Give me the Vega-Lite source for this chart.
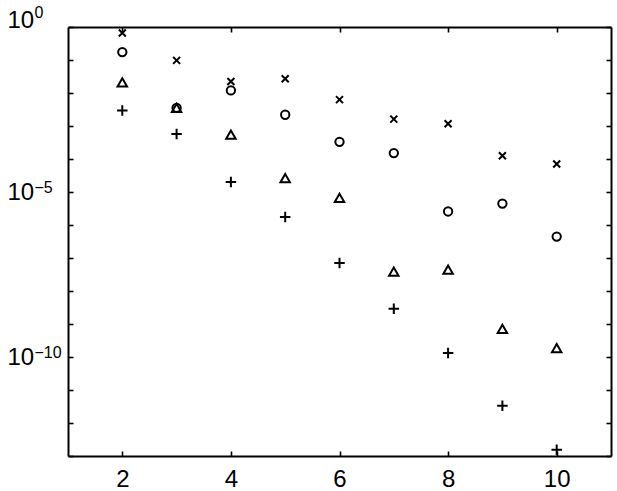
{
  "$schema": "https://vega.github.io/schema/vega-lite/v6.json",
  "width": 543,
  "height": 429,
  "autosize": "none",
  "padding": {"left": 68, "top": 27, "right": 6, "bottom": 35},
  "background": "white",
  "config": {
    "view": {"stroke": null},
    "axis": {
      "domainColor": "black",
      "domainWidth": 2,
      "tickColor": "black",
      "tickWidth": 1.6,
      "tickSize": -5,
      "grid": false,
      "labelFont": "Liberation Sans",
      "labelFontSize": 24,
      "labelColor": "black",
      "title": null
    }
  },
  "data": {
    "values": [
      {"n": 2, "err": 0.661, "series": "x"},
      {"n": 3, "err": 0.0977, "series": "x"},
      {"n": 4, "err": 0.0224, "series": "x"},
      {"n": 5, "err": 0.0269, "series": "x"},
      {"n": 6, "err": 0.00631, "series": "x"},
      {"n": 7, "err": 0.00162, "series": "x"},
      {"n": 8, "err": 0.00117, "series": "x"},
      {"n": 9, "err": 0.000126, "series": "x"},
      {"n": 10, "err": 0.0000708, "series": "x"},
      {"n": 2, "err": 0.174, "series": "o"},
      {"n": 3, "err": 0.00355, "series": "o"},
      {"n": 4, "err": 0.012, "series": "o"},
      {"n": 5, "err": 0.00219, "series": "o"},
      {"n": 6, "err": 0.000331, "series": "o"},
      {"n": 7, "err": 0.000151, "series": "o"},
      {"n": 8, "err": 2.57e-6, "series": "o"},
      {"n": 9, "err": 4.47e-6, "series": "o"},
      {"n": 10, "err": 4.47e-7, "series": "o"},
      {"n": 2, "err": 0.0209, "series": "tri"},
      {"n": 3, "err": 0.00355, "series": "tri"},
      {"n": 4, "err": 0.00055, "series": "tri"},
      {"n": 5, "err": 2.63e-5, "series": "tri"},
      {"n": 6, "err": 6.61e-6, "series": "tri"},
      {"n": 7, "err": 3.89e-8, "series": "tri"},
      {"n": 8, "err": 4.47e-8, "series": "tri"},
      {"n": 9, "err": 7.08e-10, "series": "tri"},
      {"n": 10, "err": 1.86e-10, "series": "tri"},
      {"n": 2, "err": 0.00295, "series": "plus"},
      {"n": 3, "err": 0.000575, "series": "plus"},
      {"n": 4, "err": 2.0e-5, "series": "plus"},
      {"n": 5, "err": 1.74e-6, "series": "plus"},
      {"n": 6, "err": 7.08e-8, "series": "plus"},
      {"n": 7, "err": 2.88e-9, "series": "plus"},
      {"n": 8, "err": 1.32e-10, "series": "plus"},
      {"n": 9, "err": 3.31e-12, "series": "plus"},
      {"n": 10, "err": 1.55e-13, "series": "plus"}
    ]
  },
  "layer": [
    {
      "mark": {"type": "point", "filled": false, "stroke": "black", "strokeWidth": 2, "opacity": 1},
      "encoding": {
        "x": {
          "field": "n", "type": "quantitative",
          "scale": {"domain": [1, 11], "nice": false, "zero": false},
          "axis": {"orient": "bottom", "values": [2, 4, 6, 8, 10], "labelPadding": 16, "labelBaseline": "top", "labelFlush": false}
        },
        "y": {
          "field": "err", "type": "quantitative",
          "scale": {"type": "log", "domain": [1e-13, 1], "nice": false},
          "axis": {
            "orient": "left",
            "values": [1, 1e-1, 1e-2, 1e-3, 1e-4, 1e-5, 1e-6, 1e-7, 1e-8, 1e-9, 1e-10, 1e-11, 1e-12, 1e-13],
            "labelExpr": "abs(log(datum.value)/LN10) < 0.01 || abs(log(datum.value)/LN10 + 5) < 0.01 || abs(log(datum.value)/LN10 + 10) < 0.01 ? '10' : ''",
            "labelAlign": "left",
            "labelPadding": 66,
            "labelFlush": false,
            "labelOverlap": false,
            "labelBaseline": {"condition": {"test": "datum.value > 0.5", "value": "alphabetic"}, "value": "middle"}
          }
        },
        "shape": {
          "field": "series", "type": "nominal",
          "scale": {"domain": ["x", "o", "tri", "plus"], "range": ["M-1,-1L1,1M-1,1L1,-1", "circle", "triangle-up", "M-1,0L1,0M0,-1L0,1"]},
          "legend": null
        },
        "size": {
          "field": "series", "type": "nominal",
          "scale": {"domain": ["x", "o", "tri", "plus"], "range": [49, 110, 150, 81]},
          "legend": null
        }
      }
    },
    {
      "mark": {"type": "point", "opacity": 0},
      "encoding": {
        "x": {
          "field": "n", "type": "quantitative",
          "axis": {"orient": "top", "values": [2, 4, 6, 8, 10], "labels": false}
        },
        "y": {
          "field": "err", "type": "quantitative",
          "axis": {"orient": "right", "values": [1, 1e-1, 1e-2, 1e-3, 1e-4, 1e-5, 1e-6, 1e-7, 1e-8, 1e-9, 1e-10, 1e-11, 1e-12, 1e-13], "labels": false}
        }
      }
    },
    {
      "mark": {"type": "point", "opacity": 0},
      "encoding": {
        "x": {"field": "n", "type": "quantitative", "axis": null},
        "y": {
          "field": "err", "type": "quantitative",
          "axis": {
            "orient": "left",
            "domain": false,
            "ticks": false,
            "tickSize": 0,
            "values": [1, 1e-5, 1e-10],
            "labelExpr": "abs(log(datum.value)/LN10) < 0.01 ? '0' : abs(log(datum.value)/LN10 + 5) < 0.01 ? '−5' : '−10'",
            "labelAlign": "left",
            "labelBaseline": "alphabetic",
            "labelDy": -5,
            "labelOffset": {"condition": {"test": "datum.value > 0.5", "value": -10}, "value": 0},
            "labelFontSize": 16,
            "labelPadding": 34,
            "labelFlush": false,
            "labelOverlap": false
          }
        }
      }
    }
  ],
  "resolve": {"axis": {"x": "independent", "y": "independent"}}
}
